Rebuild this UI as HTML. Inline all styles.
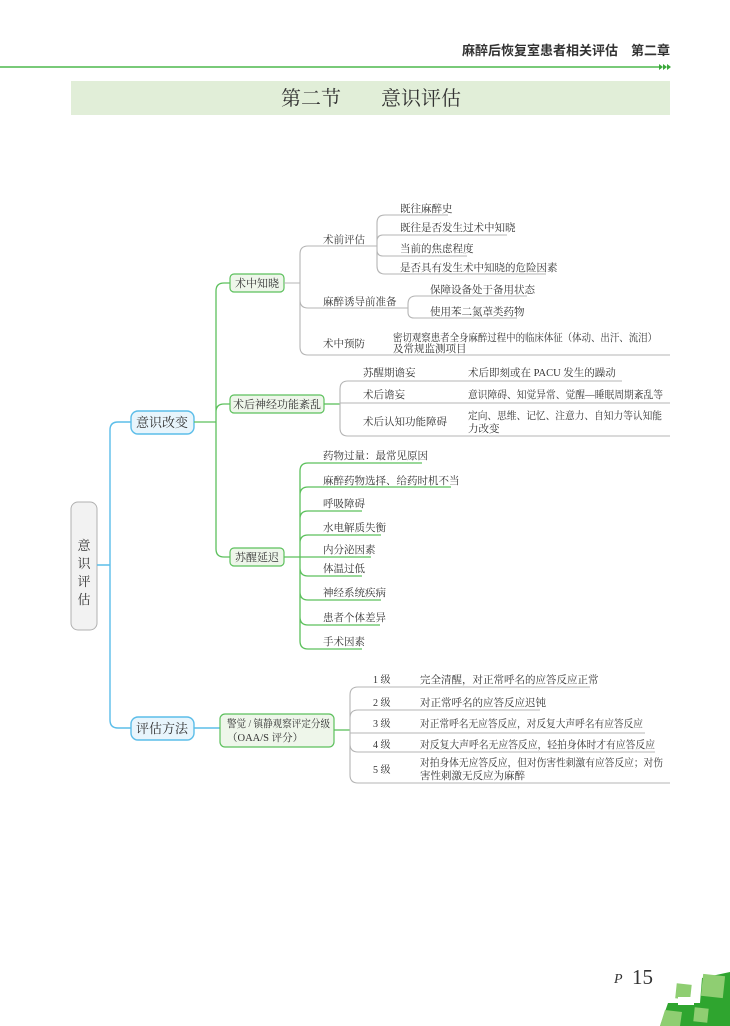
<!DOCTYPE html>
<html><head><meta charset="utf-8"><style>
html,body{margin:0;padding:0;background:#fff;}
svg{display:block;}
text{font-family:"Liberation Serif","Noto Serif CJK SC","Noto Sans CJK SC",serif;fill:#333;}
.s{font-family:"Liberation Sans","Noto Sans CJK SC",sans-serif;}
.g{fill:none;stroke:#b5b5b5;stroke-width:1.1;}
.gr{fill:none;stroke:#5cc05c;stroke-width:1.3;}
.bl{fill:none;stroke:#5bbde9;stroke-width:1.4;}
</style></head><body>
<svg width="730" height="1026" viewBox="0 0 730 1026" xmlns="http://www.w3.org/2000/svg">
<!-- header -->
<text x="670" y="55" text-anchor="end" class="s" font-size="13" font-weight="bold" fill="#222">麻醉后恢复室患者相关评估　第二章</text>
<line x1="0" y1="67" x2="660" y2="67" stroke="#4db84d" stroke-width="1.5"/>
<path d="M659 64 L663 67 L659 70 Z M663 64 L667 67 L663 70 Z M667 64 L671 67 L667 70Z" fill="#3aa83a"/>
<rect x="71" y="81" width="599" height="34" fill="#e1eed8"/>
<text x="371" y="105" text-anchor="middle" font-size="20" fill="#222">第二节　　意识评估</text>

<!-- root -->
<rect x="71" y="502" width="26" height="128" rx="7" fill="#f2f2f2" stroke="#b0b0b0"/>
<text x="84" y="550" text-anchor="middle" font-size="13">意</text>
<text x="84" y="568" text-anchor="middle" font-size="13">识</text>
<text x="84" y="586" text-anchor="middle" font-size="13">评</text>
<text x="84" y="604" text-anchor="middle" font-size="13">估</text>

<!-- blue -->
<path class="bl" d="M97 565 L110 565 M110 565 L110 430 Q110 422 118 422 L131 422 M110 565 L110 720 Q110 728 118 728 L131 728 M194 728 L220 728"/>
<rect x="131" y="411" width="63" height="23" rx="7" fill="#e8f5fc" stroke="#5bbde9" stroke-width="1.4"/>
<text x="162" y="427" text-anchor="middle" font-size="13">意识改变</text>
<rect x="131" y="717" width="63" height="23" rx="7" fill="#e8f5fc" stroke="#5bbde9" stroke-width="1.4"/>
<text x="162" y="733" text-anchor="middle" font-size="13">评估方法</text>

<!-- green main -->
<path class="gr" d="M194 422 L216 422 M216 422 L216 291 Q216 283 224 283 L230 283 M216 422 L216 412 Q216 404 224 404 L230 404 M216 422 L216 549 Q216 557 224 557 L230 557"/>
<rect x="230" y="274" width="54" height="18" rx="4" fill="#eef6ea" stroke="#5cc05c" stroke-width="1.2"/>
<text x="257" y="287" text-anchor="middle" font-size="11">术中知晓</text>
<rect x="230" y="395" width="94" height="18" rx="4" fill="#eef6ea" stroke="#5cc05c" stroke-width="1.2"/>
<text x="277" y="408" text-anchor="middle" font-size="11">术后神经功能紊乱</text>
<rect x="230" y="548" width="54" height="18" rx="4" fill="#eef6ea" stroke="#5cc05c" stroke-width="1.2"/>
<text x="257" y="561" text-anchor="middle" font-size="11">苏醒延迟</text>

<!-- 术中知晓 -->
<path class="g" d="M284 283 L300 283 M300 283 L300 254 Q300 246 308 246 L372 246 M300 283 L300 300 Q300 308 308 308 L406 308 M300 283 L300 347 Q300 355 308 355 L670 355"/>
<text x="323" y="243" font-size="10.5">术前评估</text>
<text x="323" y="305" font-size="10.5">麻醉诱导前准备</text>
<text x="323" y="347" font-size="10.5">术中预防</text>
<path class="g" d="M372 246 L377 246 M377 246 L377 223 Q377 215 385 215 L448 215 M377 246 L377 241 Q377 235 383 235 L507 235 M377 246 L377 250 Q377 256 383 256 L467 256 M377 246 L377 266 Q377 274 385 274 L546 274"/>
<text x="400" y="212" font-size="10.5">既往麻醉史</text>
<text x="400" y="231" font-size="10.5">既往是否发生过术中知晓</text>
<text x="400" y="252" font-size="10.5">当前的焦虑程度</text>
<text x="400" y="271" font-size="10.5">是否具有发生术中知晓的危险因素</text>
<path class="g" d="M406 308 L408 308 L408 304 Q408 296 416 296 L527 296 M408 308 L408 312 Q408 318 414 318 L517 318"/>
<text x="430" y="293" font-size="10.5">保障设备处于备用状态</text>
<text x="430" y="315" font-size="10.5">使用苯二氮䓬类药物</text>
<text x="393" y="341" font-size="10.5" textLength="264" lengthAdjust="spacingAndGlyphs">密切观察患者全身麻醉过程中的临床体征（体动、出汗、流泪）</text>
<text x="393" y="352" font-size="10.5">及常规监测项目</text>

<!-- 术后神经 -->
<path class="gr" d="M324 404 L340 404"/>
<path class="g" d="M340 404 L340 389 Q340 381 348 381 L622 381 M340 404 L340 403 L670 403 M340 404 L340 428 Q340 436 348 436 L670 436"/>
<text x="363" y="376" font-size="10.5">苏醒期谵妄</text>
<text x="468" y="376" font-size="10.5">术后即刻或在 PACU 发生的躁动</text>
<text x="363" y="398" font-size="10.5">术后谵妄</text>
<text x="468" y="398" font-size="10.5" textLength="195" lengthAdjust="spacingAndGlyphs">意识障碍、知觉异常、觉醒—睡眠周期紊乱等</text>
<text x="363" y="425" font-size="10.5">术后认知功能障碍</text>
<text x="468" y="419" font-size="10.5" textLength="194" lengthAdjust="spacingAndGlyphs">定向、思维、记忆、注意力、自知力等认知能</text>
<text x="468" y="432" font-size="10.5">力改变</text>

<!-- 苏醒延迟 -->
<path class="gr" d="M284 557 L300 557 M300 557 L300 471 Q300 463 308 463 L422 463 M300 557 L300 495 Q300 487 308 487 L451 487 M300 557 L300 519 Q300 511 308 511 L362 511 M300 557 L300 543 Q300 535 308 535 L381 535 M300 557 L371 557 M300 557 L300 568 Q300 576 308 576 L362 576 M300 557 L300 592 Q300 600 308 600 L381 600 M300 557 L300 617 Q300 625 308 625 L380 625 M300 557 L300 641 Q300 649 308 649 L362 649"/>
<text x="323" y="459" font-size="10.5">药物过量：最常见原因</text>
<text x="323" y="484" font-size="10.5">麻醉药物选择、给药时机不当</text>
<text x="323" y="507" font-size="10.5">呼吸障碍</text>
<text x="323" y="531" font-size="10.5">水电解质失衡</text>
<text x="323" y="553" font-size="10.5">内分泌因素</text>
<text x="323" y="572" font-size="10.5">体温过低</text>
<text x="323" y="596" font-size="10.5">神经系统疾病</text>
<text x="323" y="621" font-size="10.5">患者个体差异</text>
<text x="323" y="645" font-size="10.5">手术因素</text>

<!-- 评估方法 -->
<rect x="220" y="714" width="114" height="33" rx="5" fill="#eef6ea" stroke="#5cc05c" stroke-width="1.2"/>
<text x="227" y="727" font-size="10.5" textLength="103" lengthAdjust="spacingAndGlyphs">警觉 / 镇静观察评定分级</text>
<text x="227" y="741" font-size="10.5">（OAA/S 评分）</text>
<path class="gr" d="M334 730 L350 730"/>
<path class="g" d="M350 730 L350 695 Q350 687 358 687 L590 687 M350 730 L350 718 Q350 710 358 710 L540 710 M350 730 L350 733 L645 733 M350 730 L350 744 Q350 752 358 752 L655 752 M350 730 L350 775 Q350 783 358 783 L670 783"/>
<text x="373" y="683" font-size="10">1 级</text>
<text x="420" y="683" font-size="10.5">完全清醒，对正常呼名的应答反应正常</text>
<text x="373" y="706" font-size="10">2 级</text>
<text x="420" y="706" font-size="10.5">对正常呼名的应答反应迟钝</text>
<text x="373" y="727" font-size="10">3 级</text>
<text x="420" y="727" font-size="10.5" textLength="223" lengthAdjust="spacingAndGlyphs">对正常呼名无应答反应，对反复大声呼名有应答反应</text>
<text x="373" y="748" font-size="10">4 级</text>
<text x="420" y="748" font-size="10.5" textLength="235" lengthAdjust="spacingAndGlyphs">对反复大声呼名无应答反应，轻拍身体时才有应答反应</text>
<text x="373" y="773" font-size="10">5 级</text>
<text x="420" y="766" font-size="10.5" textLength="243" lengthAdjust="spacingAndGlyphs">对拍身体无应答反应，但对伤害性刺激有应答反应；对伤</text>
<text x="420" y="779" font-size="10.5">害性刺激无反应为麻醉</text>

<!-- page number -->
<text x="614" y="983" font-size="14" font-style="italic" fill="#3aa83a">P</text>
<text x="632" y="984" font-size="21" fill="#111">15</text>
<polygon points="660,1026 668,1003 700,1003 702,978 730,972 730,1026" fill="#2fa52f"/>
<rect x="676" y="984" width="15" height="15" fill="#8fce72" transform="rotate(6 683 991)"/>
<rect x="702" y="975" width="22" height="22" fill="#8fce72" transform="rotate(6 713 986)"/>
<rect x="694" y="1008" width="14" height="14" fill="#8fce72" transform="rotate(6 701 1015)"/>
<rect x="678" y="997" width="16" height="8" fill="#fff"/>
<polygon points="660,1026 665,1010 682,1012 680,1026" fill="#8fce72"/>
</svg>
</body></html>
